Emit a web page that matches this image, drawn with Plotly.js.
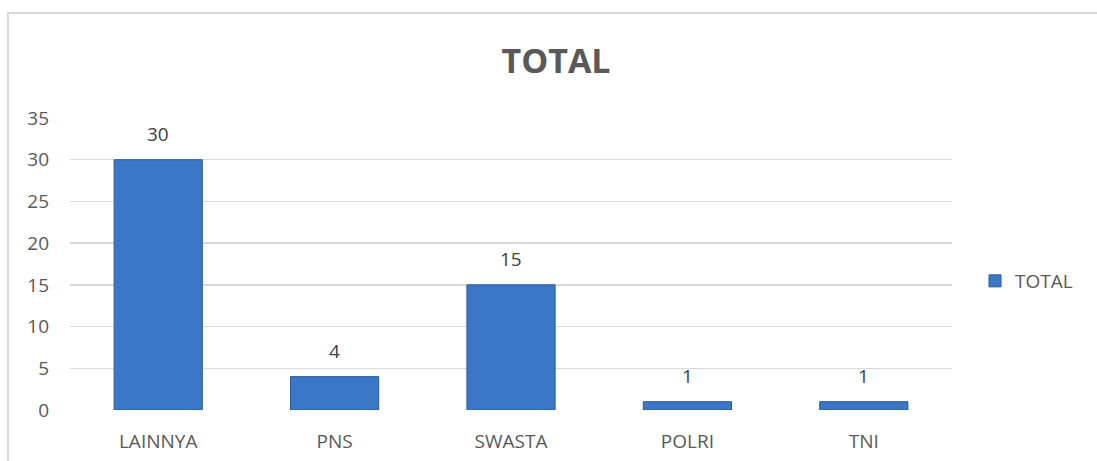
<!DOCTYPE html>
<html>
<head>
<meta charset="utf-8">
<script src="https://cdn.plot.ly/plotly-3.0.1.min.js"></script>
<style>
html,body{margin:0;padding:0;background:#fff;}
#chart{width:1097px;height:461px;}
</style>
</head>
<body>
<div id="chart"></div>
<script>
const categories = ["LAINNYA", "PNS", "SWASTA", "POLRI", "TNI"];
const totals = [30, 4, 15, 1, 1];
const seriesName = "TOTAL";
const yTicks = [0, 5, 10, 15, 20, 25, 30, 35];

const W = 1097, H = 461;
const L = 70, R = 145, T = 118, B = 51;
const pw = W - L - R, ph = H - T - B;
const px = v => (v - L) / pw;
const py = v => (H - B - v) / ph;
const FONT = "Open Sans, Liberation Sans, sans-serif";

const trace = {
  type: "bar",
  x: categories,
  y: totals,
  name: seriesName,
  width: 0.5,
  marker: {
    color: "#3a77c6",
    line: {color: "#2a5a99", width: 1}
  },
  hoverinfo: "x+y"
};

const labelAnnotations = categories.map((c, i) => ({
  x: c, y: totals[i], xref: "x", yref: "y",
  text: String(totals[i]),
  showarrow: false,
  yanchor: "bottom",
  yshift: 11,
  font: {family: FONT, size: 19, color: "#404040"}
}));

const layout = {
  width: W, height: H,
  margin: {l: L, r: R, t: T, b: B, pad: 0},
  paper_bgcolor: "#ffffff",
  plot_bgcolor: "#ffffff",
  showlegend: true,
  title: {
    text: "<b>TOTAL</b>",
    font: {family: FONT, size: 34, color: "#595959"},
    x: px(556), xanchor: "center", xref: "paper",
    y: 1 - 61 / H, yanchor: "middle"
  },
  font: {family: FONT, color: "#595959"},
  xaxis: {
    type: "category",
    showgrid: false,
    showline: false,
    zeroline: false,
    ticks: "",
    ticklabelstandoff: 18,
    tickfont: {size: 19, color: "#595959"}
  },
  yaxis: {
    range: [0, 35],
    tickvals: yTicks,
    ticktext: yTicks.map(String),
    showgrid: true,
    gridcolor: "#d9d9d9",
    gridwidth: 1.5,
    zeroline: false,
    showline: false,
    ticks: "",
    ticklabelstandoff: 20,
    tickfont: {size: 19, color: "#595959"}
  },
  legend: {
    x: px(975), xanchor: "left",
    y: py(281), yanchor: "middle",
    font: {size: 19, color: "#595959"},
    itemwidth: 30,
    bgcolor: "rgba(0,0,0,0)"
  },
  annotations: labelAnnotations,
  shapes: [
    {
      type: "rect", xref: "paper", yref: "paper",
      x0: px(8), x1: px(1110), y0: py(475), y1: py(13),
      line: {color: "#d9d9d9", width: 2},
      fillcolor: "rgba(0,0,0,0)",
      layer: "below"
    }
  ]
};

Plotly.newPlot("chart", [trace], layout, {displayModeBar: false, staticPlot: true});
</script>
</body>
</html>
